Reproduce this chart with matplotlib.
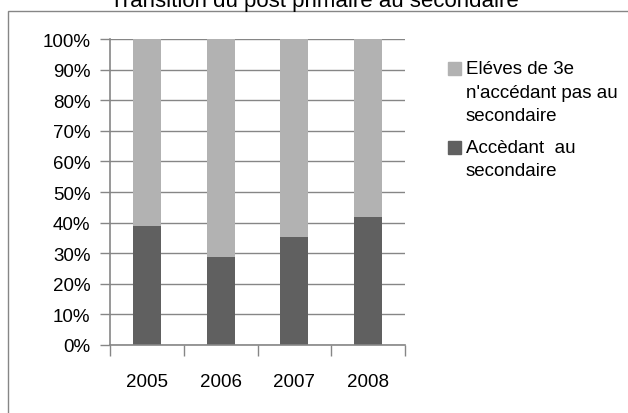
import matplotlib
matplotlib.use("Agg")
import matplotlib.pyplot as plt
from matplotlib.patches import Rectangle
from matplotlib.ticker import FixedLocator, PercentFormatter
import numpy as np

plt.rcParams["font.family"] = ["Liberation Sans", "DejaVu Sans"]

years = ["2005", "2006", "2007", "2008"]
accedant = [38.8, 28.9, 35.4, 41.9]
non_accedant = [100 - v for v in accedant]
label_non = "Eléves de 3e\nn'accédant pas au\nsecondaire"
label_acc = "Accèdant  au\nsecondaire"
title = "Transition du post primaire au secondaire"

GRID = "#868686"
LIGHT = "#B2B2B2"
DARK = "#606060"

W, H = 628, 414


def fx(px):
    return px / W


def fy(py):
    return 1 - py / H


fig = plt.figure(figsize=(W / 100, H / 100), dpi=100)
ax = fig.add_axes([fx(110), fy(346), 295 / W, 306 / H])

# chart area border (runs off the right and bottom edges)
fig.patches.append(Rectangle((fx(8), -0.05), 1.2, fy(12) + 0.05,
                             transform=fig.transFigure, fill=False,
                             edgecolor=GRID, linewidth=1.0))
# title is clipped by the top edge in the original too
fig.text(fx(314), fy(7), title, ha="center", va="baseline",
         fontsize=16, color="black")

x = np.arange(len(years))
w = 0.38
b1 = ax.bar(x, accedant, w, color=DARK, zorder=3)
b2 = ax.bar(x, non_accedant, w, bottom=accedant, color=LIGHT, zorder=3)

ax.set_xlim(-0.5, len(years) - 0.5)
ax.set_ylim(0, 100)
ax.set_yticks(np.arange(0, 101, 10))
ax.yaxis.set_major_formatter(PercentFormatter(decimals=0))
ax.yaxis.grid(True, color=GRID, linewidth=1.0, zorder=0)

ax.set_xticks(x)
ax.set_xticklabels(years)
ax.xaxis.set_minor_locator(FixedLocator(np.arange(-0.5, len(years), 1.0)))
ax.tick_params(axis="x", which="major", length=0, pad=20, labelsize=13.5)
ax.tick_params(axis="x", which="minor", length=8, width=1.0, color=GRID)
ax.tick_params(axis="y", length=7, width=1.0, color=GRID, pad=7,
               labelsize=13.5)

for side in ("top", "right"):
    ax.spines[side].set_visible(False)
for side in ("left", "bottom"):
    ax.spines[side].set_color(GRID)
    ax.spines[side].set_linewidth(1.2)
    ax.spines[side].set_zorder(4)

# legend drawn by hand: squares sit on the first line of each label
for color, label, top in ((LIGHT, label_non, 61), (DARK, label_acc, 140)):
    fig.patches.append(Rectangle((fx(448), fy(top + 15)), 13 / W, 13 / H,
                                 transform=fig.transFigure, color=color))
    fig.text(fx(466), fy(top), label, ha="left", va="top", fontsize=13.5,
             linespacing=1.5, color="black")

fig.savefig("out.png", dpi=100)
